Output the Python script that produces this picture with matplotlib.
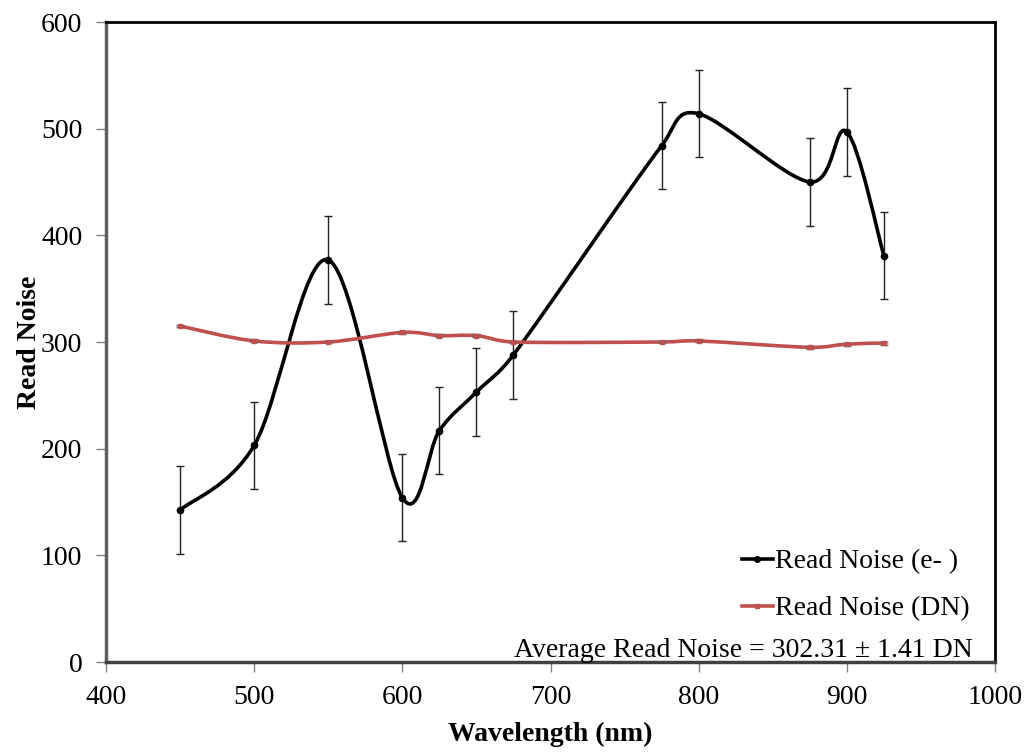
import numpy as np
import matplotlib
matplotlib.use("Agg")
import matplotlib.pyplot as plt
from matplotlib.path import Path
from matplotlib.patches import PathPatch

plt.rcParams['font.family'] = ['Liberation Serif', 'DejaVu Serif']

# wavelength (nm) and read noise for each filter
wavelength = [450, 500, 550, 600, 625, 650, 675, 775, 800, 875, 900, 925]
noise_e = [142.5, 203, 377, 154, 217, 253, 288, 484, 514, 450, 497, 381]
noise_e_err = [41, 41, 41, 41, 41, 41, 41, 41, 41, 41, 41, 41]
noise_dn = [315, 301, 300, 309, 306, 306, 300, 300, 301, 295, 298, 299]
noise_dn_err = [1.4, 1.4, 1.4, 1.4, 1.4, 1.4, 1.4, 1.4, 1.4, 1.4, 1.4, 1.4]

XPX = 889 / 600  # pixels per nm
YPX = 640 / 600  # pixels per unit of read noise


def smooth_path(x, y):
    # spreadsheet-style smoothed line: bezier segments, tangent length
    # limited to half the segment (measured in screen pixels)
    p = np.column_stack([np.asarray(x, float) * XPX, np.asarray(y, float) * YPX])
    n = len(p)
    verts = [tuple(p[0])]
    codes = [Path.MOVETO]
    for i in range(n - 1):
        p0 = p[max(i - 1, 0)]
        p1 = p[i]
        p2 = p[i + 1]
        p3 = p[min(i + 2, n - 1)]
        d12 = np.hypot(*(p2 - p1))
        d02 = np.hypot(*(p2 - p0))
        d13 = np.hypot(*(p3 - p1))
        f1 = 1 / 6 if d02 / 6 < d12 / 2 else d12 / (2 * d02)
        f2 = 1 / 6 if d13 / 6 < d12 / 2 else d12 / (2 * d13)
        c1 = p1 + f1 * (p2 - p0)
        c2 = p2 - f2 * (p3 - p1)
        verts += [tuple(c1), tuple(c2), tuple(p2)]
        codes += [Path.CURVE4] * 3
    verts = [(vx / XPX, vy / YPX) for vx, vy in verts]
    return Path(verts, codes)


fig = plt.figure(figsize=(10.3, 7.52), dpi=100)
ax = fig.add_axes([106 / 1030, 90 / 752, 889 / 1030, 640 / 752])

black = '#000000'
red = '#c0504d'

ax.add_patch(PathPatch(smooth_path(wavelength, noise_e), fill=False,
                       edgecolor=black, lw=2.6, zorder=3))
ax.add_patch(PathPatch(smooth_path(wavelength, noise_dn), fill=False,
                       edgecolor=red, lw=2.6, zorder=3))

ax.errorbar(wavelength, noise_e, yerr=noise_e_err, fmt='o', color=black,
            ms=4.5, ecolor='#222222', elinewidth=1.0, capsize=2.6, capthick=1.0, zorder=4)
ax.errorbar(wavelength, noise_dn, yerr=noise_dn_err, fmt='s', color=red,
            ms=3.5, ecolor='#666666', elinewidth=1.0, capsize=2.6, capthick=1.0, zorder=4)

# legend handles
h1, = ax.plot([], [], color=black, lw=2.6, marker='o', ms=4)
h2, = ax.plot([], [], color=red, lw=2.6, marker='s', ms=3)
ax.legend([h1, h2], ['Read Noise (e- )', 'Read Noise (DN)'], loc='upper left',
          bbox_to_anchor=(742 / 1030, 1 - 549 / 752), bbox_transform=fig.transFigure,
          frameon=False, fontsize=20, borderpad=0, borderaxespad=0,
          handlelength=1.1, handletextpad=0.1, labelspacing=0.77)

fig.text(973 / 1030, 1 - 657 / 752, 'Average Read Noise = 302.31 ± 1.41 DN',
         ha='right', va='baseline', fontsize=20)

ax.set_xlim(400, 1000)
ax.set_ylim(0, 600)
ax.set_xticks(range(400, 1001, 100))
ax.set_yticks(range(0, 601, 100))
ax.tick_params(labelsize=20, length=7, width=1, color='#808080', direction='out')
ax.tick_params(axis='x', pad=9.5)
ax.tick_params(axis='y', pad=10)

ax.spines['top'].set_linewidth(2)
ax.spines['right'].set_linewidth(2)
ax.spines['bottom'].set_linewidth(2.5)
ax.spines['bottom'].set_color('#404040')
ax.spines['left'].set_linewidth(2.5)
ax.spines['left'].set_color('#606060')

ax.set_xlabel('Wavelength (nm)', fontsize=20, fontweight='bold', labelpad=8.5)
ax.set_ylabel('Read Noise', fontsize=20, fontweight='bold', labelpad=-1)

fig.savefig('out.png', dpi=100)
